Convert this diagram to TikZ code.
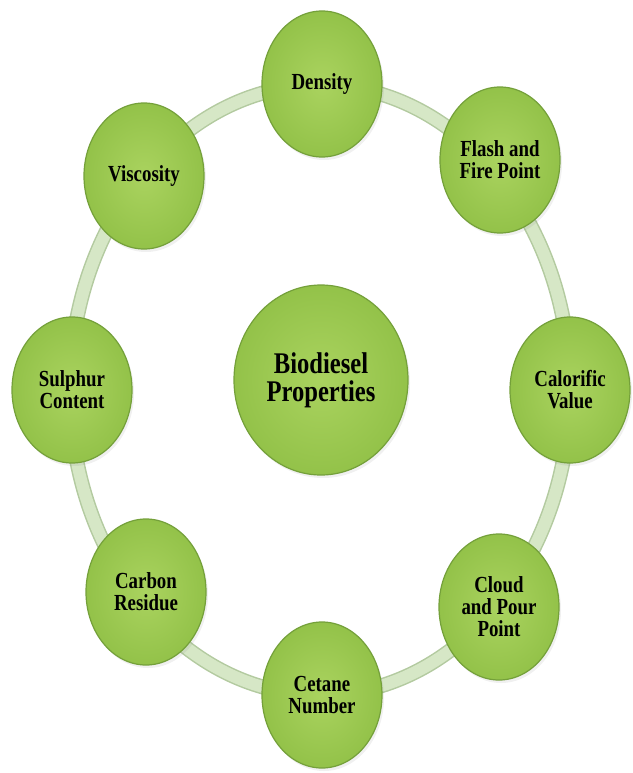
\documentclass[tikz,border=0pt]{standalone}
\usepackage{fontspec}
\newfontfamily\lblfont{Liberation Serif}[FakeStretch=0.82]
\usetikzlibrary{shapes.geometric,shadows}
\definecolor{ringfill}{HTML}{D6E7C6}
\definecolor{ringedge}{HTML}{B3CAA0}
\definecolor{propin}{HTML}{AAD35F}
\definecolor{propout}{HTML}{93C249}
\definecolor{propedge}{HTML}{74A03A}
\begin{document}
\begin{tikzpicture}[x=1pt,y=-1pt,
  prop/.style={ellipse, draw=propedge, line width=1.2pt,
    inner color=propin, outer color=propout,
    minimum width=120pt, minimum height=146pt, inner sep=0pt, align=center,
    font=\lblfont\bfseries\fontsize{23}{22}\selectfont,
    drop shadow={opacity=0.12, shadow xshift=2pt, shadow yshift=-3pt}},
  hub/.style={prop, minimum width=174pt, minimum height=190pt,
    font=\lblfont\bfseries\fontsize{30}{28}\selectfont}]
\useasboundingbox (0,0) rectangle (632,773);
% ring
\draw[ringedge, line width=15pt] (320,390) ellipse [x radius=250, y radius=305];
\draw[ringfill, line width=12pt] (320,390) ellipse [x radius=250, y radius=305];
% properties
\node[prop] (density) at (322,84) {Density};
\node[prop] (flash) at (500,160) {Flash and\\Fire Point};
\node[prop] (calorific) at (570,390) {Calorific\\Value};
\node[prop] (cloud) at (499,607) {Cloud\\and Pour\\Point};
\node[prop] (cetane) at (322,695) {Cetane\\Number};
\node[prop] (carbon) at (146,592) {Carbon\\Residue};
\node[prop] (sulphur) at (72,390) {Sulphur\\Content};
\node[prop] (viscosity) at (144,176) {Viscosity};
\node[hub] (biodiesel) at (321,380) {Biodiesel\\Properties};
\end{tikzpicture}
\end{document}
